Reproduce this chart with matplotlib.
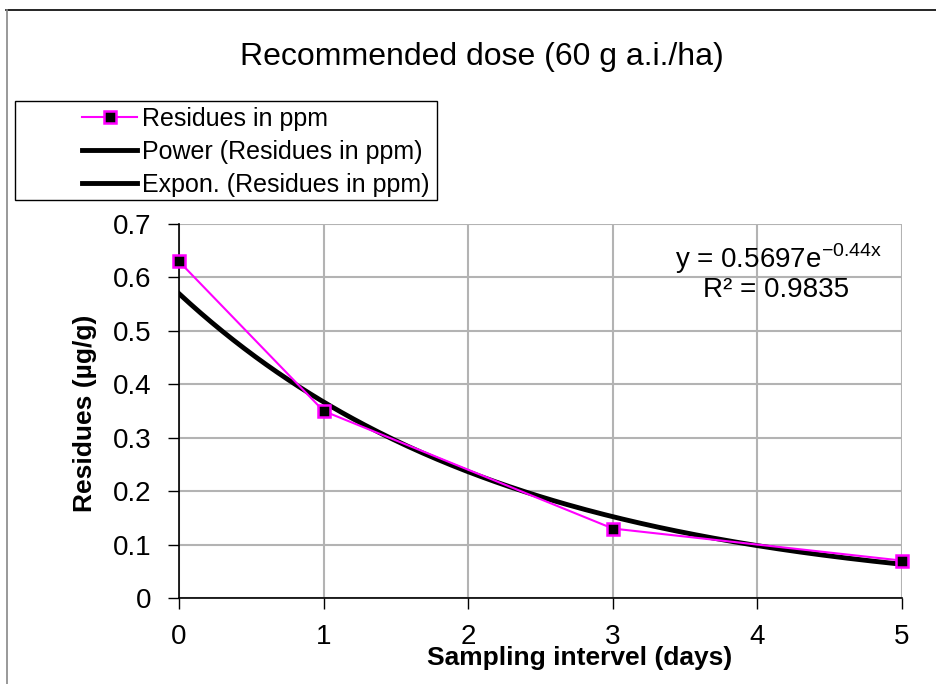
import numpy as np
import matplotlib
matplotlib.use("Agg")
import matplotlib.pyplot as plt
from matplotlib.lines import Line2D
from matplotlib.patches import Rectangle

plt.rcParams['font.family'] = ['Liberation Sans', 'DejaVu Sans']
plt.rcParams['mathtext.fontset'] = 'custom'
plt.rcParams['mathtext.rm'] = 'Liberation Sans'

# data
days = [0, 1, 3, 5]
residues = [0.63, 0.35, 0.13, 0.07]
exp_a = 0.5697
exp_b = -0.44
r2 = 0.9835
xticks = [0, 1, 2, 3, 4, 5]
yticks = [0, 0.1, 0.2, 0.3, 0.4, 0.5, 0.6, 0.7]
title = "Recommended dose (60 g a.i./ha)"
xlabel = "Sampling intervel (days)"
ylabel = "Residues (µg/g)"
series_name = "Residues in ppm"
legend_labels = [series_name, "Power (Residues in ppm)", "Expon. (Residues in ppm)"]

W, H = 937, 684
L, R, B, T = 179, 902, 598, 224
fig = plt.figure(figsize=(W / 100, H / 100), dpi=100)
ax = fig.add_axes([L / W, 1 - B / H, (R - L) / W, (B - T) / H])

def fx(px):
    return px / W

def fy(py):
    return 1 - py / H

# border of chart area
fig.add_artist(Line2D([fx(6), 1], [fy(10), fy(10)], color='black', lw=1.2))
fig.add_artist(Line2D([fx(7), fx(7)], [0, fy(10)], color='#888888', lw=1.2))

xs = np.linspace(0, 5, 200)
ax.plot(xs, exp_a * np.exp(exp_b * xs), color='black', lw=3.5, zorder=3)
ax.plot(days, residues, color='#ff00ff', lw=1.5, marker='s', markersize=9,
        markerfacecolor='black', markeredgecolor='#ff00ff', markeredgewidth=1.8,
        zorder=4, clip_on=False)

ax.set_xlim(0, 5)
ax.set_ylim(0, 0.7)
ax.set_xticks(xticks)
ax.set_yticks(yticks)
ax.set_xticklabels([str(t) for t in xticks])
ax.set_yticklabels(['0'] + [f"{t:.1f}" for t in yticks[1:]])
ax.tick_params(axis='both', direction='out', length=8, width=1, labelsize=20, color='black')
ax.tick_params(axis='x', pad=11)
ax.tick_params(axis='y', pad=12)
ax.grid(True, color='#b3b3b3', lw=1.5)
ax.set_axisbelow(True)
for s in ['top', 'right']:
    ax.spines[s].set_visible(False)
for s in ['left', 'bottom']:
    ax.spines[s].set_color('black')
    ax.spines[s].set_linewidth(1.2)

fig.text(fx(482), fy(57), title, ha='center', va='center', fontsize=23)
fig.text(fx(85), fy(413), ylabel, ha='center', va='center', rotation=90,
         fontsize=19, fontweight='bold')
fig.text(fx(580), fy(658), xlabel, ha='center', va='center',
         fontsize=19, fontweight='bold')

fig.text(fx(778), fy(259), r'y = 0.5697e$^{\mathregular{-0.44x}}$',
         fontsize=20, ha='center', va='center')
fig.text(fx(776), fy(290), f'R² = {r2}', fontsize=20, ha='center', va='center')

# legend box
fig.add_artist(Rectangle((fx(15), fy(200)), fx(437) - fx(15), fy(101) - fy(200),
                         transform=fig.transFigure, facecolor='white',
                         edgecolor='black', lw=1.0, zorder=5))
h1 = Line2D([], [], color='#ff00ff', lw=1.5, marker='s', markersize=9,
            markerfacecolor='black', markeredgecolor='#ff00ff', markeredgewidth=1.8)
h2 = Line2D([], [], color='black', lw=3.5)
h3 = Line2D([], [], color='black', lw=3.5)
leg = fig.legend([h1, h2, h3], legend_labels,
                 loc='upper left', bbox_to_anchor=(fx(82), fy(107)),
                 fontsize=18, frameon=False,
                 borderpad=0, labelspacing=0.36, handlelength=2.2, handletextpad=0.2,
                 borderaxespad=0)
leg.set_zorder(6)

fig.savefig('out.png', dpi=100)
